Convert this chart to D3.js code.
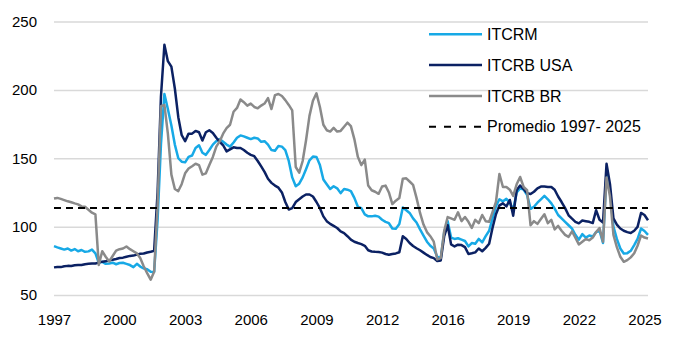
<!DOCTYPE html>
<html>
<head>
<meta charset="utf-8">
<script src="https://cdn.jsdelivr.net/npm/d3@7"></script>
<style>
  body { margin: 0; background: #fff; }
  svg text { font-family: "Liberation Sans", Arial, sans-serif; fill: #000; }
</style>
</head>
<body>
<div id="chart"></div>
<script>
    // monthly index, sampled every two months from Jan 1997
    const startMonth = new Date(1997, 0, 1);
    const stepMonths = 2;
    const lastMonth = new Date(2025, 8, 1);

    const itcrm = [
        85.7, 84.8, 84.0, 83.2, 84.0, 82.5, 83.6, 82.0, 82.9, 81.6, 81.9, 83.2, 80.5, 73.5, 74.2,
        72.8, 73.1, 73.6, 72.5, 73.4, 73.6, 72.8, 71.9, 70.4, 72.8, 70.8, 69.4, 68.9, 67.0, 66.8,
        105, 160, 197, 186, 174, 160, 150, 147.5, 147, 151, 152, 157.5, 159.5, 154, 152.5,
        156, 160, 162.5, 164, 162, 160, 158.5, 161.5, 165, 166.7, 166, 165, 164, 165, 164.5,
        162, 162.5, 160, 156, 155.5, 159, 158.5, 156, 148,
        136, 129.5, 131.4, 136, 142, 148.5, 151.2, 151, 145, 134.5, 131, 127.5, 129.5, 128, 124.5,
        127.5, 127, 126, 121, 114.5, 113.5, 109, 107.5, 107.5, 108, 107.3, 105, 103.5, 102.5, 98.6,
        98.5, 102, 114, 112, 110,
        106, 103, 98, 93.5, 89, 86, 84, 78, 77, 96, 104, 92, 91, 91.5, 90.5,
        89.5, 85.5, 88, 87.5, 91, 88.5, 93, 97, 106, 115, 120, 118.5, 120.3, 117.5, 112,
        125, 128, 127, 123, 113,
        114.5, 117.5, 120, 122.5, 120, 117, 113.2, 108.5, 106, 103.5, 101, 98.5, 94, 90.5, 94.5,
        92, 93.5, 92.8, 96, 97, 88, 138.7, 126, 100, 91, 84, 80.4, 80.6, 82.3, 86.5,
        91, 98.6, 96.8, 94
    ];

    const itcrbUsa = [
        70.2, 70.5, 70.4, 71.0, 71.3, 71.2, 71.8, 72.0, 71.9, 72.5, 72.8, 73.1, 73.0, 73.7, 74.4,
        74.6, 75.4, 75.8, 76.3, 77.0, 77.3, 78.0, 78.6, 78.8, 79.5, 80.1, 80.3, 81.1, 81.6, 82.3,
        125, 195, 233, 221, 217, 201, 180, 167, 162.5, 168, 168, 170, 169, 163, 169,
        170.5, 168.5, 165, 162, 159.5, 155, 156.5, 158, 157.5, 157.5, 156, 154, 152.5, 151.5, 148,
        144, 140, 135, 132, 130, 128.5, 125, 118, 112.5,
        113.5, 118, 120, 122, 123.5, 123.5, 122, 118, 113.5, 107.5, 104, 102, 100.5, 99, 96.5,
        95.2, 93, 90.5, 88.9, 88, 87.2, 86, 82.7, 81.8, 81.6, 81.5, 81, 80, 79.4, 80,
        80.4, 81.3, 93, 91, 88,
        85.8, 84.2, 82.7, 81, 79.3, 77.8, 77, 74.8, 75.3, 93, 101, 87, 85.5, 86.8, 86.5,
        85, 80, 80.5, 81.2, 84, 82, 84.5, 87.5, 99, 109, 115.5, 117, 114.8, 119.5, 108,
        126.6, 130, 127.5, 124.5, 123.8,
        125.5, 128, 129.3, 129.3, 129, 129, 127, 122, 118, 113.5, 108.3, 105.8, 103.5, 102.4, 104.5,
        104, 103.5, 102.6, 112, 105, 103, 146, 131, 106, 101.5, 98.6, 97, 96, 95.3, 97,
        99.8, 110, 108.5, 104.7
    ];

    const itcrbBr = [
        120.5, 121, 120.3, 119.4, 118.5, 117.8, 117, 116.3, 114.8, 114.5, 112.3, 110.2, 109, 72, 82,
        78, 74.5, 78.5, 82.5, 83.5, 84, 85.5, 83.5, 82, 80.4, 77, 71, 66, 61.2, 67,
        115, 188, 189, 168, 138, 127.5, 126, 131, 139, 142.5, 144.2, 146, 145, 138, 139,
        145, 151, 158.5, 162.5, 168, 172, 174.5, 184, 186.8, 193, 191, 188.5, 190, 187.5, 186.5,
        188.5, 190, 194, 186, 196.2, 197, 195.5, 192.5, 189,
        185, 143.6, 139.5, 148, 163, 181, 192, 197.5, 187.5, 174.5, 170.5, 169.5, 172.2, 169.5, 170,
        173, 176, 173.5, 164, 151, 145, 149, 130, 126.6, 125.5, 124, 129.3, 130, 125, 116.5,
        119, 121, 135, 135.3, 133,
        130.5, 121, 110, 101.5, 96, 93, 89, 76, 77, 97, 107, 106, 105, 110.5, 104,
        107, 103.5, 99, 105, 102.5, 108.5, 104, 103.5, 110.5, 118, 138.5, 129, 129, 127, 122.5,
        131, 136.3, 129, 126.6, 101,
        104, 102, 105.5, 109, 102.5, 105, 98, 100.5, 97, 94, 92.5, 96.5, 92, 87, 89,
        91, 90, 92, 96, 99, 89, 136, 122, 94, 85, 78, 74.3, 75.5, 77.5, 80.5,
        86, 93.5, 92, 91.3
    ];

    const promedio = 113.6;

    const seriesNames = ["ITCRM", "ITCRB USA", "ITCRB BR", "Promedio 1997- 2025"];
    const seriesColors = ["#17a9e6", "#0b2163", "#8a8a8a", "#000000"];

    const yTicks = [50, 100, 150, 200, 250];
    const xTickMonths = ["1997-01", "2000-03", "2003-05", "2006-07", "2009-09",
                         "2012-11", "2016-01", "2019-03", "2022-05", "2025-07"];
    const xTickLabels = ["1997", "2000", "2003", "2006", "2009", "2012", "2016", "2019", "2022", "2025"];

    const width = 680, height = 340;
    const plot = { left: 54, right: 648, top: 21.5, bottom: 295 };

    const svg = d3.select("#chart")
        .append("svg")
        .attr("width", width)
        .attr("height", height);

    const parseMonth = d3.timeParse("%Y-%m");

    const x = d3.scaleTime()
        .domain([startMonth, lastMonth])
        .range([plot.left, plot.right]);

    const y = d3.scaleLinear()
        .domain([50, 250])
        .range([plot.bottom, plot.top]);

    // horizontal gridlines + value labels
    const yAxis = svg.append("g")
        .attr("transform", `translate(${plot.left},0)`)
        .call(d3.axisLeft(y)
            .tickValues(yTicks)
            .tickSize(-(plot.right - plot.left))
            .tickPadding(17));
    yAxis.select(".domain").remove();
    yAxis.selectAll(".tick line")
        .attr("stroke", "#d9d9d9")
        .attr("stroke-width", 1.5);
    yAxis.selectAll(".tick text")
        .attr("font-size", 15);

    const xAxis = svg.append("g")
        .attr("transform", `translate(0,${plot.bottom})`)
        .call(d3.axisBottom(x)
            .tickValues(xTickMonths.map(parseMonth))
            .tickFormat((d, i) => xTickLabels[i])
            .tickSize(0)
            .tickPadding(19));
    xAxis.select(".domain").remove();
    xAxis.selectAll(".tick text")
        .attr("font-size", 15);

    const toPoints = values => values.map((v, i) => ({
        date: d3.timeMonth.offset(startMonth, i * stepMonths),
        value: v
    }));

    const line = d3.line()
        .x(d => x(d.date))
        .y(d => y(d.value));

    const series = [itcrm, itcrbUsa, itcrbBr];

    svg.append("g")
        .selectAll("path")
        .data(series)
        .join("path")
        .attr("d", d => line(toPoints(d)))
        .attr("fill", "none")
        .attr("stroke", (d, i) => seriesColors[i])
        .attr("stroke-width", 2.5)
        .attr("stroke-linejoin", "round");

    // average over the whole period
    svg.append("line")
        .attr("x1", x(startMonth))
        .attr("x2", x(lastMonth))
        .attr("y1", y(promedio))
        .attr("y2", y(promedio))
        .attr("stroke", seriesColors[3])
        .attr("stroke-width", 2)
        .attr("stroke-dasharray", "7,5");

    // legend
    const legend = svg.append("g")
        .selectAll("g")
        .data(seriesNames)
        .join("g")
        .attr("transform", (d, i) => `translate(429,${34.3 + i * 30.8})`);

    legend.append("line")
        .attr("x1", 0)
        .attr("x2", (d, i) => i === 3 ? 52 : 53)
        .attr("stroke", (d, i) => seriesColors[i])
        .attr("stroke-width", (d, i) => i === 3 ? 2 : 2.5)
        .attr("stroke-dasharray", (d, i) => i === 3 ? "7,8" : null);

    legend.append("text")
        .attr("x", 58)
        .attr("dy", "0.35em")
        .attr("font-size", 16)
        .text(d => d);
</script>
</body>
</html>
